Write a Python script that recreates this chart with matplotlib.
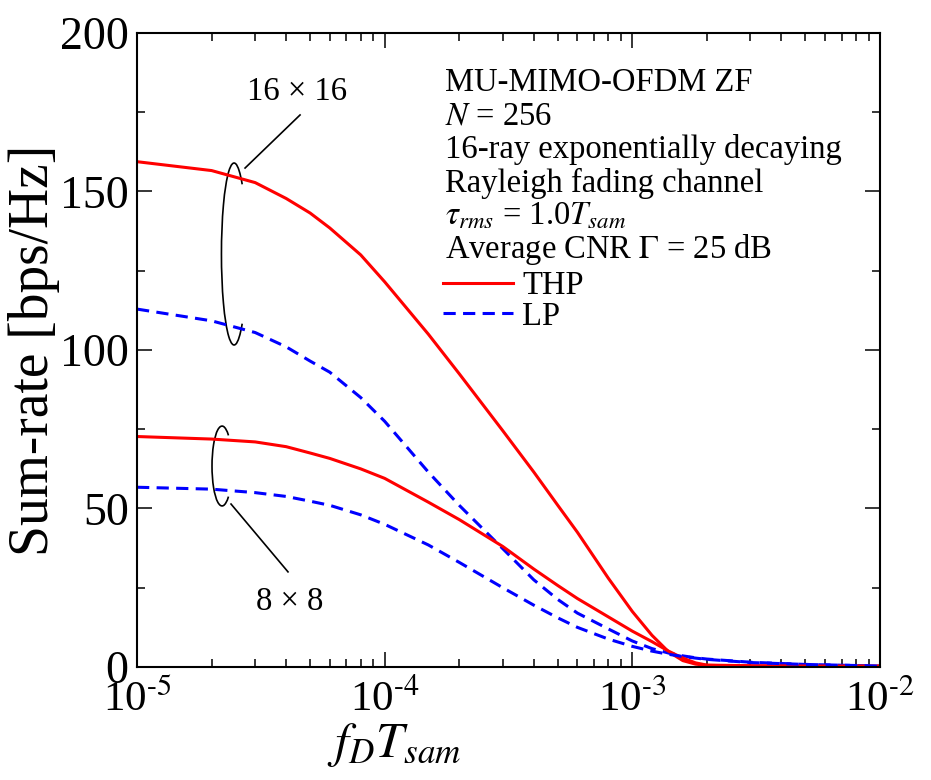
import numpy as np
import matplotlib.pyplot as plt
from matplotlib.patches import Arc
from matplotlib.ticker import MultipleLocator, LogLocator, FuncFormatter

plt.rcParams['font.family'] = ['Liberation Serif', 'DejaVu Serif']
plt.rcParams['mathtext.fontset'] = 'stix'
plt.rcParams['axes.unicode_minus'] = False

# normalized Doppler frequency f_D*T_sam
fd = [1e-5, 2e-5, 3e-5, 4e-5, 5e-5, 6e-5, 8e-5, 1e-4, 1.5e-4, 2e-4, 3e-4, 4e-4,
      5e-4, 6e-4, 8e-4, 1e-3, 1.2e-3, 1.4e-3, 1.6e-3, 1.8e-3, 2e-3, 3e-3, 5e-3, 1e-2]

# sum-rate [bps/Hz]
thp_16 = [159.4, 156.6, 152.8, 147.8, 143.2, 138.5, 130.0, 121.5, 105.0, 92.5, 74.5, 61.5,
          51.0, 42.5, 28.0, 17.5, 10.0, 4.8, 2.0, 0.9, 0.5, 0.3, 0.2, 0.2]
lp_16 = [112.9, 109.2, 105.5, 101.0, 96.5, 93.0, 85.0, 77.5, 61.5, 51.0, 37.3, 27.5,
         21.3, 17.0, 12.0, 8.2, 5.8, 4.4, 3.5, 2.9, 2.5, 1.5, 0.8, 0.3]
thp_8 = [72.7, 71.9, 71.0, 69.5, 67.5, 65.8, 62.5, 59.5, 52.0, 46.5, 38.0, 30.9,
         25.7, 21.6, 15.8, 11.3, 8.0, 5.0, 2.8, 1.3, 0.6, 0.4, 0.3, 0.3]
lp_8 = [56.7, 56.1, 55.0, 53.8, 52.3, 51.0, 48.0, 45.0, 38.5, 33.0, 25.0, 19.5,
        15.5, 12.5, 8.8, 6.5, 5.0, 4.0, 3.3, 2.8, 2.4, 1.4, 0.8, 0.3]

info_lines = ['MU-MIMO-OFDM ZF',
              '$N$ = 256',
              '16-ray exponentially decaying',
              'Rayleigh fading channel',
              r'$\tau_{rms}$ = 1.0$T_{sam}$',
              r'Average CNR $\Gamma$ = 25 dB']

fig = plt.figure(figsize=(9.31, 7.8), dpi=100)
ax = fig.add_axes([0.1472, 0.1449, 0.798, 0.8128])

dash = (0, (4, 2.4))
l1, = ax.plot(fd, thp_16, color='#ff0000', lw=2.2, label='THP')
l2, = ax.plot(fd, lp_16, color='#0000ff', lw=2.2, ls=dash, label='LP')
ax.plot(fd, thp_8, color='#ff0000', lw=2.2)
ax.plot(fd, lp_8, color='#0000ff', lw=2.2, ls=dash)

ax.set_xscale('log')
ax.set_xlim(1e-5, 1e-2)
ax.set_ylim(0, 200)
ax.yaxis.set_major_locator(MultipleLocator(50))
ax.yaxis.set_minor_locator(MultipleLocator(25))
ax.xaxis.set_minor_locator(LogLocator(base=10, subs=np.arange(2, 10)))
ax.xaxis.set_major_formatter(
    FuncFormatter(lambda v, p: r'10$^{\text{-}%d}$' % round(-np.log10(v))))

for s in ax.spines.values():
    s.set_linewidth(1.5)
ax.tick_params(which='both', direction='in', top=True, right=True, width=1.1)
ax.tick_params(which='major', length=11)
ax.tick_params(which='minor', length=6)
ax.tick_params(axis='x', labelsize=31, pad=9)
ax.tick_params(axis='y', labelsize=33, pad=6)

ax.set_xlabel('$f_DT_{sam}$', fontsize=36)
ax.xaxis.set_label_coords(0.346, -0.085)
ax.set_ylabel('Sum-rate [bps/Hz]', fontsize=40)
ax.yaxis.set_label_coords(-0.104, 0.5)

# info text block
fs = 23.5
baselines = [91, 125, 158, 192, 225, 258]
for txt, yb in zip(info_lines, baselines):
    ax.text(0.4145, (667 - yb) / 634, txt, transform=ax.transAxes,
            fontsize=fs, va='baseline', ha='left')

ax.legend(handles=[l1, l2], loc='upper left', bbox_to_anchor=(0.412, 0.625),
          frameon=False, fontsize=fs, handlelength=2.15, handletextpad=0.28,
          labelspacing=0.0, borderpad=0, borderaxespad=0)


def arc_angle(t, w, h):
    # Arc stretches angles for ellipses; convert a parametric angle back
    t = np.deg2rad(t)
    return np.rad2deg(np.arctan2(np.sin(t) * h / w, np.cos(t))) % 360


# group markers
w, h = 0.034, 0.287
ax.add_patch(Arc((0.1306, 0.6514), w, h, theta1=arc_angle(50, w, h), theta2=arc_angle(310, w, h),
                 transform=ax.transAxes, color='black', lw=1.2))
ax.plot([0.1454, 0.2194], [0.787, 0.8707], transform=ax.transAxes, color='black', lw=1.2)
ax.text(0.2153, 0.907, '16 × 16', transform=ax.transAxes, fontsize=fs,
        ha='center', va='center')

w, h = 0.027, 0.126
ax.add_patch(Arc((0.1144, 0.317), w, h, theta1=arc_angle(50, w, h), theta2=arc_angle(310, w, h),
                 transform=ax.transAxes, color='black', lw=1.2))
ax.plot([0.1265, 0.2032], [0.257, 0.150], transform=ax.transAxes, color='black', lw=1.2)
ax.text(0.206, 0.1025, '8 × 8', transform=ax.transAxes, fontsize=fs,
        ha='center', va='center')

fig.savefig('out.png', dpi=100)
